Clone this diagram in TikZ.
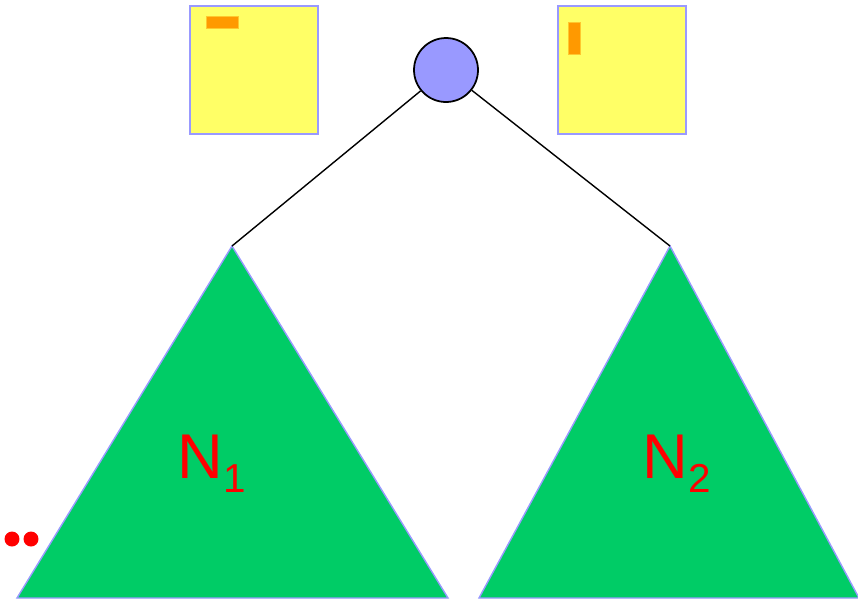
\documentclass[tikz,border=0pt]{standalone}
\usepackage{fontspec}
\setmainfont{Liberation Sans}
\definecolor{rootBlue}{RGB}{153,153,255}
\definecolor{lineBlue}{RGB}{153,153,255}
\definecolor{boxYellow}{RGB}{255,255,102}
\definecolor{barOrange}{RGB}{255,153,0}
\definecolor{treeGreen}{RGB}{0,204,102}

\begin{document}
\begin{tikzpicture}[x=0.02cm, y=-0.02cm,
      box/.style={draw=lineBlue, fill=boxYellow, line width=1pt},
      bar/.style={draw=barOrange!55!boxYellow, fill=barOrange, line width=0.4pt},
      subtree/.style={draw=lineBlue, fill=treeGreen, line width=0.8pt, line join=miter},
      root/.style={circle, draw=black, fill=rootBlue, line width=1pt,
                   minimum size=1.28cm, inner sep=0pt},
      dot/.style={circle, fill=red, minimum size=0.3cm, inner sep=0pt},
      label/.style={text=red, font=\fontsize{36}{40}\selectfont,
                    anchor=base west, inner sep=0pt}]
      \useasboundingbox (0,0) rectangle (858,600);
      % the two boxes
      \draw[box] (190,6) rectangle (318,134);
      \draw[bar] (206,16) rectangle (238,28);
      \draw[box] (558,6) rectangle (686,134);
      \draw[bar] (568,22) rectangle (580,54);
      % subtrees
      \coordinate (top1) at (232,246);
      \coordinate (top2) at (670,246);
      \draw[subtree] (top1) -- (448,598) -- (17,598) -- cycle;
      \draw[subtree] (top2) -- (859,598) -- (479,598) -- cycle;
      \node[root] (root) at (446,70) {};
      \draw[line width=0.8pt] (root) -- (top1);
      \draw[line width=0.8pt] (root) -- (top2);
      \node[label] (n1) at (177,478) {N\raisebox{-0.28cm}{\fontsize{23}{23}\selectfont 1}};
      \node[label] (n2) at (642,478) {N\raisebox{-0.28cm}{\fontsize{23}{23}\selectfont 2}};
      \node[dot] (dot1) at (12,539) {};
      \node[dot] (dot2) at (31,539) {};
    \end{tikzpicture}
\end{document}
